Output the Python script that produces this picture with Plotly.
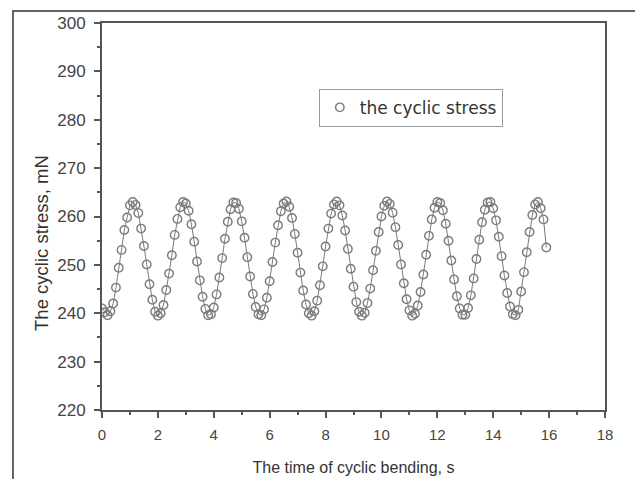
import plotly.graph_objects as go

time_s = [round(0.1 * k, 1) for k in range(160)]

stress_mN = [
    241.0, 240.2, 239.6, 240.4, 242.0, 245.3, 249.4, 253.1, 257.2, 259.8,
    262.3, 263.0, 262.4, 260.7, 257.5, 253.9, 250.1, 246.0, 242.8, 240.3,
    239.5, 240.0, 241.7, 244.8, 248.2, 252.0, 256.2, 259.5, 261.9, 263.0,
    262.7, 261.2, 258.4, 254.8, 250.7, 246.8, 243.4, 240.9, 239.6, 239.8,
    241.2, 243.9, 247.4, 251.4, 255.4, 258.9, 261.5, 262.9, 262.8, 261.6,
    259.0, 255.6, 251.6, 247.6, 244.0, 241.3, 239.8, 239.6, 240.8, 243.2,
    246.6, 250.6, 254.6, 258.2, 261.1, 262.7, 263.1, 262.0, 259.7, 256.4,
    252.5, 248.4, 244.7, 241.8, 240.0, 239.5, 240.4, 242.6, 245.8, 249.7,
    253.8, 257.5, 260.6, 262.5, 263.1, 262.3, 260.2, 257.1, 253.3, 249.2,
    245.5, 242.3, 240.3, 239.5, 240.1, 242.1, 245.1, 248.9, 252.9, 256.8,
    260.0, 262.2, 263.1, 262.6, 260.8, 257.8, 254.1, 250.1, 246.2, 242.9,
    240.6, 239.5, 239.9, 241.6, 244.4, 248.0, 252.1, 256.0, 259.4, 261.8,
    263.0, 262.8, 261.3, 258.5, 255.0, 250.9, 247.0, 243.5, 241.0, 239.7,
    239.7, 241.1, 243.7, 247.2, 251.2, 255.2, 258.8, 261.4, 262.9, 263.0,
    261.7, 259.2, 255.8, 251.8, 247.8, 244.2, 241.4, 239.8, 239.6, 240.7,
    244.5, 248.5, 252.6, 256.8, 260.3, 262.5, 263.0, 261.7, 259.4, 253.6,
]

x_ticks = [0, 2, 4, 6, 8, 10, 12, 14, 16, 18]
y_ticks = [220, 230, 240, 250, 260, 270, 280, 290, 300]

series_name = "the cyclic stress"
x_title = "The time of cyclic bending, s"
y_title = "The cyclic stress, mN"

axis_color = "#555555"
text_color = "#333333"
font_family = "Liberation Sans, Arial, sans-serif"

fig = go.Figure()
# connecting line (no legend entry)
fig.add_trace(go.Scatter(
    x=time_s, y=stress_mN, mode="lines", showlegend=False, hoverinfo="skip",
    line=dict(color="#7a7a7a", width=1),
))
# open-circle data points (legend shows marker only)
fig.add_trace(go.Scatter(
    x=time_s, y=stress_mN, mode="markers", name=series_name,
    marker=dict(symbol="circle-open", size=8.5, color="#7c7c7c",
                line=dict(width=1.4, color="#7c7c7c")),
))

fig.update_layout(
    width=635,
    height=471,
    margin=dict(l=94, r=38, t=15, b=69, autoexpand=False),
    paper_bgcolor="white",
    plot_bgcolor="white",
    font=dict(family=font_family, color=text_color, size=14),
    showlegend=True,
    legend=dict(
        x=0.431, y=0.83, xanchor="left", yanchor="top",
        bordercolor="#9a9a9a", borderwidth=1,
        bgcolor="white",
        font=dict(size=17, color=text_color, family="DejaVu Sans, sans-serif"),
        itemwidth=30,
    ),
    shapes=[dict(
        type="rect", xref="paper", yref="paper",
        x0=-0.177, x1=1.0616, y0=-0.25, y1=1.031,
        line=dict(color="#333333", width=1.5),
        fillcolor="rgba(0,0,0,0)", layer="below",
    )],
    annotations=[dict(
        text=y_title, xref="paper", yref="paper",
        x=-0.119, y=0.432, xanchor="center", yanchor="middle",
        textangle=-90, showarrow=False,
        font=dict(size=18.5, color=text_color),
    )],
)

fig.update_xaxes(
    range=[0, 18],
    tickvals=x_ticks,
    ticktext=[str(v) for v in x_ticks],
    showgrid=False, zeroline=False, automargin=False,
    showline=True, linecolor=axis_color, linewidth=2, mirror=True,
    ticks="outside", ticklen=6, tickwidth=1.5, tickcolor=axis_color,
    minor=dict(dtick=1, tick0=0, ticks="outside", ticklen=3, tickwidth=1.5, tickcolor=axis_color),
    tickfont=dict(size=15, color="#444444"),
    ticklabelstandoff=4,
    title=dict(text=x_title, font=dict(size=16, color=text_color), standoff=20),
)
fig.update_yaxes(
    range=[220, 300],
    tickvals=y_ticks,
    ticktext=[str(v) for v in y_ticks],
    showgrid=False, zeroline=False, automargin=False,
    showline=True, linecolor=axis_color, linewidth=2, mirror=True,
    ticks="outside", ticklen=6, tickwidth=1.5, tickcolor=axis_color,
    minor=dict(dtick=5, tick0=220, ticks="outside", ticklen=3, tickwidth=1.5, tickcolor=axis_color),
    tickfont=dict(size=17, color="#444444"),
    ticklabelstandoff=5,
)

fig.write_html("out.html")
